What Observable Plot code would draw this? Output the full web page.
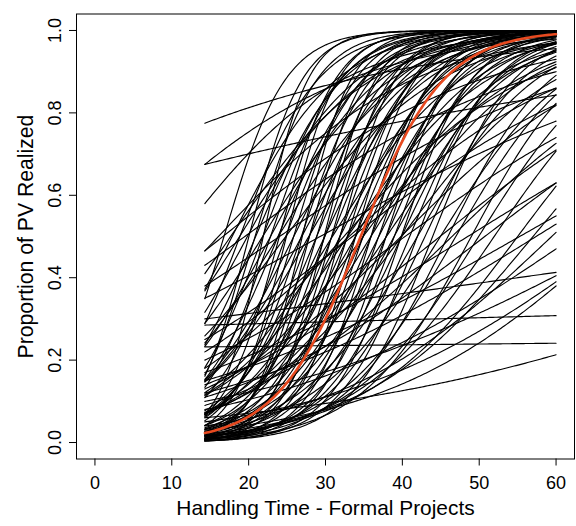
<!DOCTYPE html>
<html><head><meta charset="utf-8">
<script src="https://cdn.jsdelivr.net/npm/d3@7"></script>
<script src="https://cdn.jsdelivr.net/npm/@observablehq/plot@0.6"></script>
<style>body{margin:0;background:#fff}</style>
</head><body><div id="chart"></div>
<script>
// Each fitted curve is a logistic in handling time, drawn from x = 14.3 to x = 60.
// Values: proportion realized at the first and last handling time.
const xFirst = 14.3;
const xLast = 60;
const startP = [
  0.161,0.165,0.068,0.134,0.065,0.153,0.041,0.109,0.053,0.151,
  0.018,0.060,0.148,0.022,0.063,0.147,0.026,0.069,0.0095,0.032,
  0.077,0.0135,0.042,0.121,0.0074,0.025,0.068,0.0117,0.041,0.116,
  0.0063,0.024,0.073,0.011,0.036,0.114,0.0046,0.020,0.070,0.0088,
  0.033,0.0045,0.018,0.070,0.0074,0.031,0.0037,0.0166,0.072,0.0084,
  0.0041,0.027,0.0103,0.0037,0.025,0.0088,0.0144,0.0079,0.014,0.016,
  0.017,0.021,0.349,0.372,0.289,0.368,0.316,0.237,0.289,0.233,
  0.242,0.259,0.182,
  0.775,0.675,0.675,0.58,0.465,0.465,0.43,0.41,0.38,0.35,
  0.30,0.285,0.232,0.20,0.17,0.15,0.12,0.10,0.08,0.06,
  0.05,0.04,0.03,0.25,0.22,0.18,0.14,0.11,0.09,0.13
];
const endP = [
  0.99999,0.99994,0.999998,0.9997,0.99995,0.9985,0.99997,0.9991,0.9998,0.9939,
  0.99997,0.9993,0.990,0.99987,0.9983,0.985,0.99957,0.9962,0.99988,0.9986,
  0.9918,0.9995,0.996,0.970,0.9996,0.9972,0.985,0.9985,0.990,0.951,
  0.9988,0.9929,0.967,0.9959,0.982,0.924,0.9975,0.987,0.947,0.992,
  0.969,0.9937,0.977,0.918,0.985,0.950,0.988,0.961,0.881,0.968,
  0.973,0.912,0.938,0.954,0.858,0.891,0.844,0.823,0.769,0.707,
  0.622,0.567,0.99998,0.998,0.9997,0.9928,0.9963,0.999,0.9897,0.9944,
  0.987,0.971,0.9995,
  0.956,0.979,0.843,0.99,0.97,0.93,0.90,0.99,0.86,0.78,
  0.413,0.308,0.241,0.74,0.63,0.55,0.53,0.405,0.47,0.213,
  0.39,0.51,0.38,0.82,0.86,0.91,0.71,0.63,0.726,0.818
];
// Mean curve (orange)
const meanStart = 0.023;
const meanEnd = 0.991;

const xTicks = [0, 10, 20, 30, 40, 50, 60];
const yTicks = [0, 0.2, 0.4, 0.6, 0.8, 1.0];
const xTitle = "Handling Time - Formal Projects";
const yTitle = "Proportion of PV Realized";

const logit = p => Math.log(p / (1 - p));
const grid = d3.range(xFirst, xLast, 0.25).concat([xLast]);
function curvePoints(s, e, id) {
  const a = logit(s), b = logit(e);
  return grid.map(x => {
    const L = a + (b - a) * (x - xFirst) / (xLast - xFirst);
    return {id, x, y: 1 / (1 + Math.exp(-L))};
  });
}
const curveData = startP.flatMap((s, i) => curvePoints(s, endP[i], i));
const meanData = curvePoints(meanStart, meanEnd, "mean");

const chart = Plot.plot({
  width: 576, height: 526,
  marginLeft: 76, marginRight: 2, marginTop: 13.5, marginBottom: 67.5,
  x: {domain: [-2.4, 62.4]},
  y: {domain: [-0.04, 1.04]},
  style: {fontFamily: "'Liberation Sans', Arial, sans-serif", fontSize: "18px", background: "white", color: "black"},
  marks: [
    Plot.line(curveData, {x: "x", y: "y", z: "id", stroke: "black", strokeWidth: 1.15}),
    Plot.line(meanData, {x: "x", y: "y", stroke: "#E84A20", strokeWidth: 2.6}),
    Plot.frame({stroke: "black", strokeWidth: 1}),
    Plot.axisX({ticks: xTicks, tickSize: 7, tickPadding: 10.5, fontSize: 18, label: null, tickFormat: d3.format("d")}),
    Plot.axisY({ticks: yTicks, tickSize: 7, tickRotate: -90, tickPadding: 8.5, fontSize: 18, label: null, tickFormat: d3.format(".1f")}),
    Plot.text([xTitle], {text: d => d, frameAnchor: "bottom", dy: 55.5, fontSize: 20.9}),
    Plot.text([yTitle], {text: d => d, frameAnchor: "left", dx: -50, rotate: -90, textAnchor: "middle", fontSize: 21.2})
  ]
});
document.getElementById("chart").appendChild(chart);
</script>
</body></html>
